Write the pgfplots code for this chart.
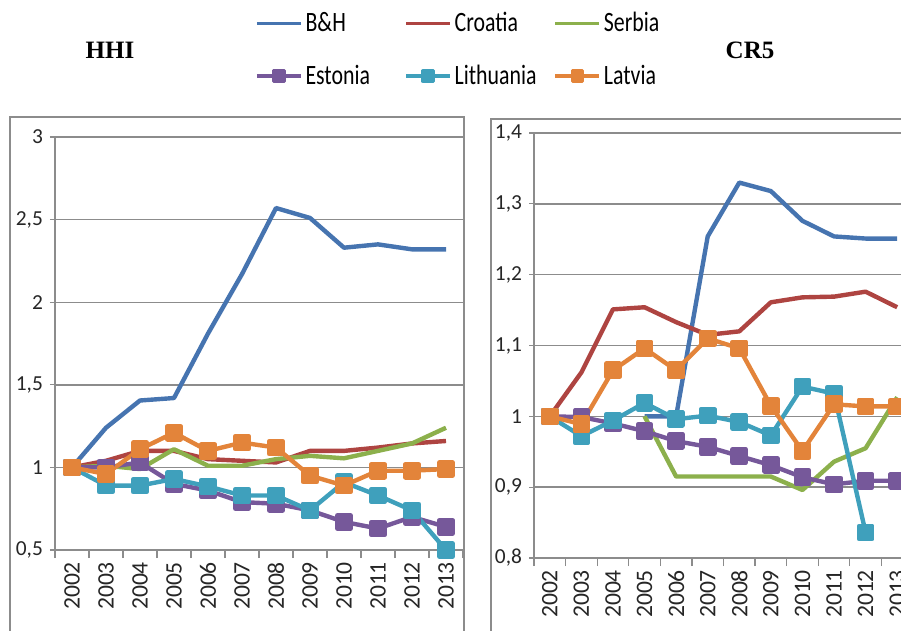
\documentclass[border=0pt]{standalone}
\usepackage{pgfplots}
\pgfplotsset{compat=1.18}
\usepackage{fontspec}
\setmainfont{Carlito}
\newfontfamily\legfont{Carlito}[FakeStretch=0.78]
\newfontfamily\titlefont{Liberation Serif}
\definecolor{cBH}{HTML}{4674B0}
\definecolor{cHR}{HTML}{AE4441}
\definecolor{cRS}{HTML}{8CB04C}
\definecolor{cEE}{HTML}{76589A}
\definecolor{cLT}{HTML}{3FA0BC}
\definecolor{cLV}{HTML}{E3843A}
\definecolor{gridc}{HTML}{8C8C8C}
\definecolor{framec}{HTML}{8C8C8C}
\pgfplotsset{
  excel/.style={
    scale only axis,
    axis x line*=bottom, axis y line*=left,
    axis line style={gridc, line width=0.6pt},
    xmin=-0.5, xmax=11.5,
    xtick={0,...,11},
    xticklabels={2002,2003,2004,2005,2006,2007,2008,2009,2010,2011,2012,2013},
    major x tick style={draw=none},
    minor xtick={-0.5,0.5,...,11.5},
    minor x tick style={gridc, line width=0.6pt},
    minor tick length=4pt,
    tick align=outside,
    major tick length=2.5pt,
    ymajorgrids,
    major grid style={gridc, line width=0.7pt},
    ytick style={gridc, line width=0.6pt},
    x tick label style={rotate=90, anchor=east, font=\fontsize{11.8}{12}\selectfont, text=black!85},
    y tick label style={font=\fontsize{10.7}{12}\selectfont, text=black!85},
    every axis plot/.append style={line width=2.2pt, mark size=3.3pt, line join=round},
    clip=false,
  }
}
\begin{document}
\begin{tikzpicture}
% frames
\draw[framec, line width=1pt] (5pt,-320pt) -- (5pt,-58.5pt) -- (232pt,-58.5pt) -- (232pt,-320pt);
\draw[framec, line width=1pt] (245.5pt,-320pt) -- (245.5pt,-59.5pt) -- (455pt,-59.5pt);
\node[font=\titlefont\bfseries\fontsize{12.5}{14}\selectfont] at (55pt,-25pt) {HHI};
\node[font=\titlefont\bfseries\fontsize{12.5}{14}\selectfont] at (375pt,-25pt) {CR5};

\begin{axis}[excel,
  at={(27.5pt,-275pt)}, anchor=south west,
  width=204pt, height=206.5pt,
  ymin=0.5, ymax=3,
  ytick={0.5,1,1.5,2,2.5,3},
  yticklabels={{0,5},{1},{1,5},{2},{2,5},{3}},
  legend columns=3,
  legend style={at={(0.49,1.31)}, anchor=north west, draw=none, fill=none,
    font=\legfont\fontsize{14}{16}\selectfont, column sep=0pt, row sep=12pt,
    inner sep=0pt, nodes={inner sep=1.5pt}},
  legend cell align=left,
  legend image code/.code={\draw[mark repeat=2,mark phase=2,line width=1.6pt,mark size=2.6pt,#1] plot coordinates {(0pt,0pt)(11pt,0pt)(22pt,0pt)};},
]
\addplot[cBH] coordinates {(0,1.00)(1,1.24)(2,1.405)(3,1.42)(4,1.81)(5,2.17)(6,2.57)(7,2.51)(8,2.33)(9,2.35)(10,2.32)(11,2.32)};
\addlegendentry{\makebox[48pt][l]{B\&H}}
\addplot[cHR] coordinates {(0,1.00)(1,1.04)(2,1.10)(3,1.10)(4,1.05)(5,1.04)(6,1.03)(7,1.10)(8,1.10)(9,1.12)(10,1.145)(11,1.16)};
\addlegendentry{\makebox[48pt][l]{Croatia}}
\addplot[cRS] coordinates {(0,1.00)(1,1.01)(2,0.99)(3,1.11)(4,1.01)(5,1.01)(6,1.05)(7,1.07)(8,1.055)(9,1.10)(10,1.145)(11,1.24)};
\addlegendentry{Serbia}
\addplot[cEE, mark=square*] coordinates {(0,1.00)(1,1.00)(2,1.03)(3,0.90)(4,0.86)(5,0.79)(6,0.78)(7,0.74)(8,0.67)(9,0.63)(10,0.70)(11,0.64)};
\addlegendentry{\makebox[48pt][l]{Estonia}}
\addplot[cLT, mark=square*] coordinates {(0,1.00)(1,0.89)(2,0.89)(3,0.93)(4,0.885)(5,0.83)(6,0.83)(7,0.74)(8,0.91)(9,0.83)(10,0.74)(11,0.50)};
\addlegendentry{\makebox[48pt][l]{Lithuania}}
\addplot[cLV, mark=square*] coordinates {(0,1.00)(1,0.96)(2,1.11)(3,1.21)(4,1.10)(5,1.15)(6,1.12)(7,0.95)(8,0.89)(9,0.98)(10,0.98)(11,0.99)};
\addlegendentry{Latvia}
\end{axis}

\begin{axis}[excel,
  at={(267pt,-279pt)}, anchor=south west,
  width=189.5pt, height=212.5pt,
  ymin=0.8, ymax=1.4,
  ytick={0.8,0.9,1,1.1,1.2,1.3,1.4},
  yticklabels={{0,8},{0,9},{1},{1,1},{1,2},{1,3},{1,4}},
]
\addplot[cBH] coordinates {(3,1.0)(4,1.0)(5,1.254)(6,1.33)(7,1.318)(8,1.276)(9,1.254)(10,1.251)(11,1.251)};
\addplot[cHR] coordinates {(0,1.0)(1,1.062)(2,1.151)(3,1.154)(4,1.133)(5,1.115)(6,1.12)(7,1.161)(8,1.168)(9,1.169)(10,1.176)(11,1.154)};
\addplot[cRS] coordinates {(3,1.0)(4,0.915)(5,0.915)(6,0.915)(7,0.915)(8,0.896)(9,0.936)(10,0.955)(11,1.027)};
\addplot[cEE, mark=square*] coordinates {(0,1.0)(1,0.999)(2,0.99)(3,0.979)(4,0.965)(5,0.957)(6,0.944)(7,0.931)(8,0.914)(9,0.904)(10,0.909)(11,0.909)};
\addplot[cLT, mark=square*] coordinates {(0,1.0)(1,0.972)(2,0.994)(3,1.019)(4,0.996)(5,1.001)(6,0.992)(7,0.973)(8,1.042)(9,1.032)(10,0.836)};
\addplot[cLV, mark=square*] coordinates {(0,1.0)(1,0.989)(2,1.065)(3,1.096)(4,1.065)(5,1.11)(6,1.096)(7,1.015)(8,0.951)(9,1.017)(10,1.014)(11,1.014)};
\end{axis}
\pgfresetboundingbox
\useasboundingbox (0pt,0pt) rectangle (450.5pt,-315.5pt);
\end{tikzpicture}
\end{document}
